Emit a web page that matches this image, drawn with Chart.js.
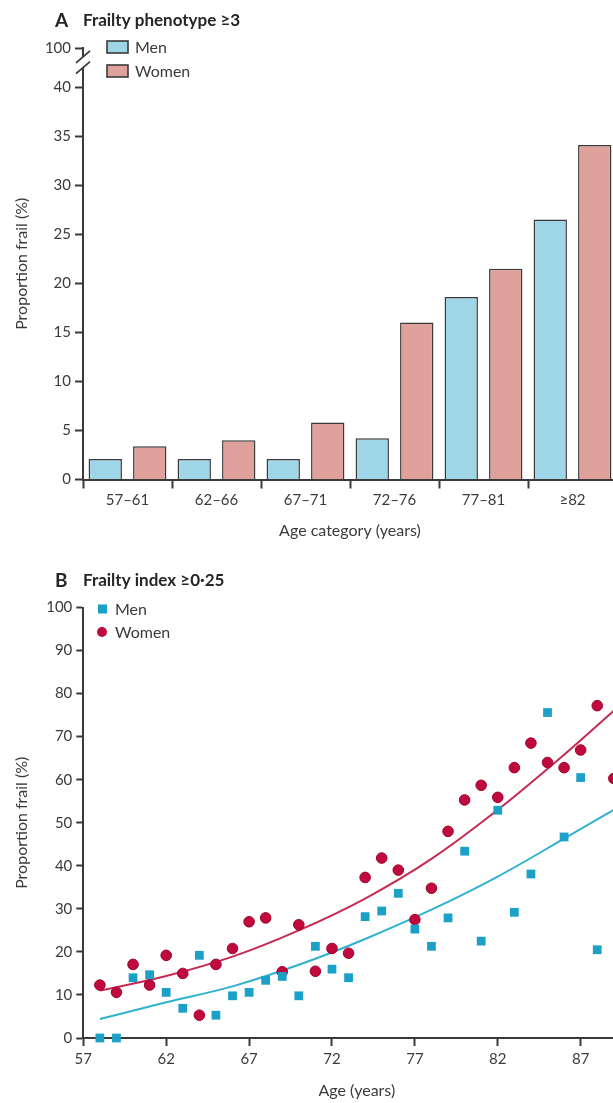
<!DOCTYPE html>
<html>
<head>
<meta charset="utf-8">
<script src="https://cdn.jsdelivr.net/npm/chart.js@4.4.1/dist/chart.umd.min.js"></script>
<style>
  html, body { margin: 0; padding: 0; background: #fff; overflow: hidden; width: 613px; height: 1103px; }
  .panel { position: absolute; left: 0; }
  #wrapA { top: 0; width: 640px; height: 545px; }
  #wrapB { top: 560px; width: 640px; height: 543px; }
  canvas { display: block; }
</style>
</head>
<body>
<div id="wrapA" class="panel"><canvas id="chartA" width="640" height="545"></canvas></div>
<div id="wrapB" class="panel"><canvas id="chartB" width="640" height="543"></canvas></div>
<script>
// Panel A: frailty phenotype >=3, proportion frail by age band
const ageCategories = ['57–61', '62–66', '67–71', '72–76', '77–81', '≥82'];
const phenotypeMen = [2.1, 2.1, 2.1, 4.2, 18.6, 26.5];
const phenotypeWomen = [3.4, 4.0, 5.8, 16.0, 21.5, 34.1];
const phenotypeTicks = [0, 5, 10, 15, 20, 25, 30, 35, 40];
const phenotypeTopLabel = '100';

// Panel B: frailty index >=0.25, proportion frail by single year of age
const indexAges = [58, 59, 60, 61, 62, 63, 64, 65, 66, 67, 68, 69, 70, 71, 72, 73,
                   74, 75, 76, 77, 78, 79, 80, 81, 82, 83, 84, 85, 86, 87, 88, 89];
const indexMen = [0, 0, 14.0, 14.7, 10.6, 6.9, 19.2, 5.3, 9.8, 10.6, 13.4, 14.3, 9.8, 21.3, 16.0, 14.0,
                  28.2, 29.5, 33.6, 25.3, 21.3, 27.9, 43.4, 22.5, 52.9, 29.2, 38.1, 75.6, 46.7, 60.5, 20.5, null];
const indexWomen = [12.3, 10.6, 17.1, 12.3, 19.2, 15.0, 5.3, 17.1, 20.8, 27.0, 27.9, 15.4, 26.3, 15.5, 20.8, 19.7,
                    37.3, 41.8, 39.0, 27.5, 34.8, 48.0, 55.3, 58.7, 55.9, 62.8, 68.5, 64.0, 62.8, 66.9, 77.2, 60.3];
const indexAgeTicks = [57, 62, 67, 72, 77, 82, 87];
const indexPctTicks = [0, 10, 20, 30, 40, 50, 60, 70, 80, 90, 100];

// fitted trend curves
const trendAgesMen = [58, 62, 66, 70, 74, 78, 82, 86, 89];
const trendMen = [4.4, 8.3, 12.0, 17.0, 23.0, 29.8, 37.5, 46.3, 53.0];
const trendAgesWomen = [58, 62, 66, 70, 74, 78, 82, 86, 89];
const trendWomen = [11.0, 14.4, 18.9, 25.0, 32.4, 41.6, 53.0, 65.8, 76.0];

const FONT = 'Lato, "Open Sans", "DejaVu Sans", sans-serif';
const TEXT = '#3b3b3b';
const AXIS = '#3a3a3a';

const toPoints = (xs, ys) => xs.map((x, i) => ({ x, y: ys[i] })).filter(p => p.y !== null);

// titles, legends and the broken-axis marks
const panelDecor = {
  id: 'panelDecor',
  afterDraw(chart, args, opts) {
    const ctx = chart.ctx;
    ctx.save();
    ctx.textBaseline = 'middle';
    ctx.textAlign = 'left';
    ctx.fillStyle = '#262626';
    ctx.font = 'bold 19px ' + FONT;
    ctx.fillText(opts.letter, 55, 21);
    ctx.font = 'bold 17px ' + FONT;
    ctx.fillText(opts.title, 83, 21);

    ctx.font = '16px ' + FONT;
    opts.legend.forEach(item => {
      if (item.kind === 'box') {
        ctx.fillStyle = item.color;
        ctx.fillRect(item.x, item.y - 6, 21, 12);
        ctx.strokeStyle = AXIS;
        ctx.lineWidth = 1.6;
        ctx.strokeRect(item.x, item.y - 6, 21, 12);
      } else if (item.kind === 'rect') {
        ctx.fillStyle = item.color;
        ctx.fillRect(item.x - 4.5, item.y - 4.5, 9, 9);
      } else {
        ctx.fillStyle = item.color;
        ctx.beginPath();
        ctx.arc(item.x, item.y, 5, 0, Math.PI * 2);
        ctx.fill();
      }
      ctx.fillStyle = TEXT;
      ctx.fillText(item.label, item.textX, item.y + 1);
    });

    if (opts.axisBreak) {
      const ys = chart.scales.y;
      const x0 = chart.chartArea.left;
      const yUp = ys.getPixelForValue(opts.axisBreak.upper);
      const yLo = ys.getPixelForValue(opts.axisBreak.lower);
      ctx.fillStyle = '#fff';
      ctx.fillRect(x0 - 3, yUp, 6, yLo - yUp);
      ctx.strokeStyle = AXIS;
      ctx.lineWidth = 1.8;
      [yUp, yLo].forEach(yy => {
        ctx.beginPath();
        ctx.moveTo(x0 - 7, yy + 6);
        ctx.lineTo(x0 + 7, yy - 6);
        ctx.stroke();
      });
    }
    ctx.restore();
  }
};

const tickFont = { family: FONT, size: 15 };
const titleFont = { family: FONT, size: 16 };

// Panel A
new Chart(document.getElementById('chartA'), {
  type: 'bar',
  data: {
    labels: ageCategories,
    datasets: [
      { label: 'Men', data: phenotypeMen, backgroundColor: '#9ed6e8', borderColor: AXIS, borderWidth: 1.5 },
      { label: 'Women', data: phenotypeWomen, backgroundColor: '#dfa19c', borderColor: AXIS, borderWidth: 1.5 }
    ]
  },
  options: {
    responsive: false,
    animation: false,
    layout: { padding: { top: 48, right: 23, left: 0, bottom: 0 } },
    datasets: { bar: { barPercentage: 0.75, categoryPercentage: 1.0 } },
    plugins: {
      legend: { display: false },
      tooltip: { enabled: false },
      panelDecor: {
        letter: 'A',
        title: 'Frailty phenotype ≥3',
        legend: [
          { kind: 'box', label: 'Men', color: '#9ed6e8', x: 107, y: 47, textX: 135 },
          { kind: 'box', label: 'Women', color: '#dfa19c', x: 107, y: 71, textX: 135 }
        ],
        axisBreak: { upper: 43.1, lower: 42.0 }
      }
    },
    scales: {
      x: {
        grid: { offset: true, drawOnChartArea: false, drawTicks: true, tickLength: 9, tickWidth: 2, tickColor: AXIS },
        border: { display: true, color: AXIS, width: 2 },
        ticks: { font: tickFont, color: TEXT, padding: 3 },
        title: { display: true, text: 'Age category (years)', font: titleFont, color: TEXT, padding: { top: 4, bottom: 5 } },
        afterFit(s) { s.height = 65.5; }
      },
      y: {
        min: 0,
        max: 44,
        afterBuildTicks(s) { s.ticks = phenotypeTicks.concat([44]).map(v => ({ value: v })); },
        grid: { drawOnChartArea: false, drawTicks: true, tickLength: 8, tickWidth: 2, tickColor: AXIS },
        border: { display: true, color: AXIS, width: 2 },
        ticks: { font: tickFont, color: TEXT, padding: 4, callback: v => (v === 44 ? phenotypeTopLabel : v) },
        title: { display: true, text: 'Proportion frail (%)', font: titleFont, color: TEXT, padding: { top: 12, bottom: 4 } },
        afterFit(s) { s.width = 83; }
      }
    }
  },
  plugins: [panelDecor]
});

// Panel B
new Chart(document.getElementById('chartB'), {
  type: 'scatter',
  data: {
    datasets: [
      { label: 'Men', data: toPoints(indexAges, indexMen), pointStyle: 'rect', pointRadius: 6.2,
        backgroundColor: '#1ba0c8', borderWidth: 0, clip: false },
      { label: 'Women', data: toPoints(indexAges, indexWomen), pointStyle: 'circle', pointRadius: 5.3,
        backgroundColor: '#c00a3e', borderColor: '#a1002f', borderWidth: 1, clip: false },
      { label: 'Men trend', type: 'line', data: toPoints(trendAgesMen, trendMen), showLine: true,
        pointRadius: 0, borderColor: '#2fb2cf', borderWidth: 2, cubicInterpolationMode: 'monotone', fill: false },
      { label: 'Women trend', type: 'line', data: toPoints(trendAgesWomen, trendWomen), showLine: true,
        pointRadius: 0, borderColor: '#c62a52', borderWidth: 2, cubicInterpolationMode: 'monotone', fill: false }
    ]
  },
  options: {
    responsive: false,
    animation: false,
    layout: { padding: { top: 47.5, right: 9.6, left: 0, bottom: 0 } },
    plugins: {
      legend: { display: false },
      tooltip: { enabled: false },
      panelDecor: {
        letter: 'B',
        title: 'Frailty index ≥0·25',
        legend: [
          { kind: 'rect', label: 'Men', color: '#1ba0c8', x: 102.5, y: 49, textX: 115 },
          { kind: 'circle', label: 'Women', color: '#c00a3e', x: 102, y: 72, textX: 115 }
        ]
      }
    },
    scales: {
      x: {
        type: 'linear',
        min: 57,
        max: 90,
        afterBuildTicks(s) { s.ticks = indexAgeTicks.map(v => ({ value: v })); },
        grid: { drawOnChartArea: false, drawTicks: true, tickLength: 8, tickWidth: 2, tickColor: AXIS },
        border: { display: true, color: AXIS, width: 2 },
        ticks: { font: tickFont, color: TEXT, padding: 4 },
        title: { display: true, text: 'Age (years)', font: titleFont, color: TEXT, padding: { top: 4, bottom: 3 } },
        afterFit(s) { s.height = 65; }
      },
      y: {
        min: 0,
        max: 100,
        afterBuildTicks(s) { s.ticks = indexPctTicks.map(v => ({ value: v })); },
        grid: { drawOnChartArea: false, drawTicks: true, tickLength: 7, tickWidth: 2, tickColor: AXIS },
        border: { display: true, color: AXIS, width: 2 },
        ticks: { font: tickFont, color: TEXT, padding: 4 },
        title: { display: true, text: 'Proportion frail (%)', font: titleFont, color: TEXT, padding: { top: 12, bottom: 4 } },
        afterFit(s) { s.width = 83.3; }
      }
    }
  },
  plugins: [panelDecor]
});
</script>
</body>
</html>
